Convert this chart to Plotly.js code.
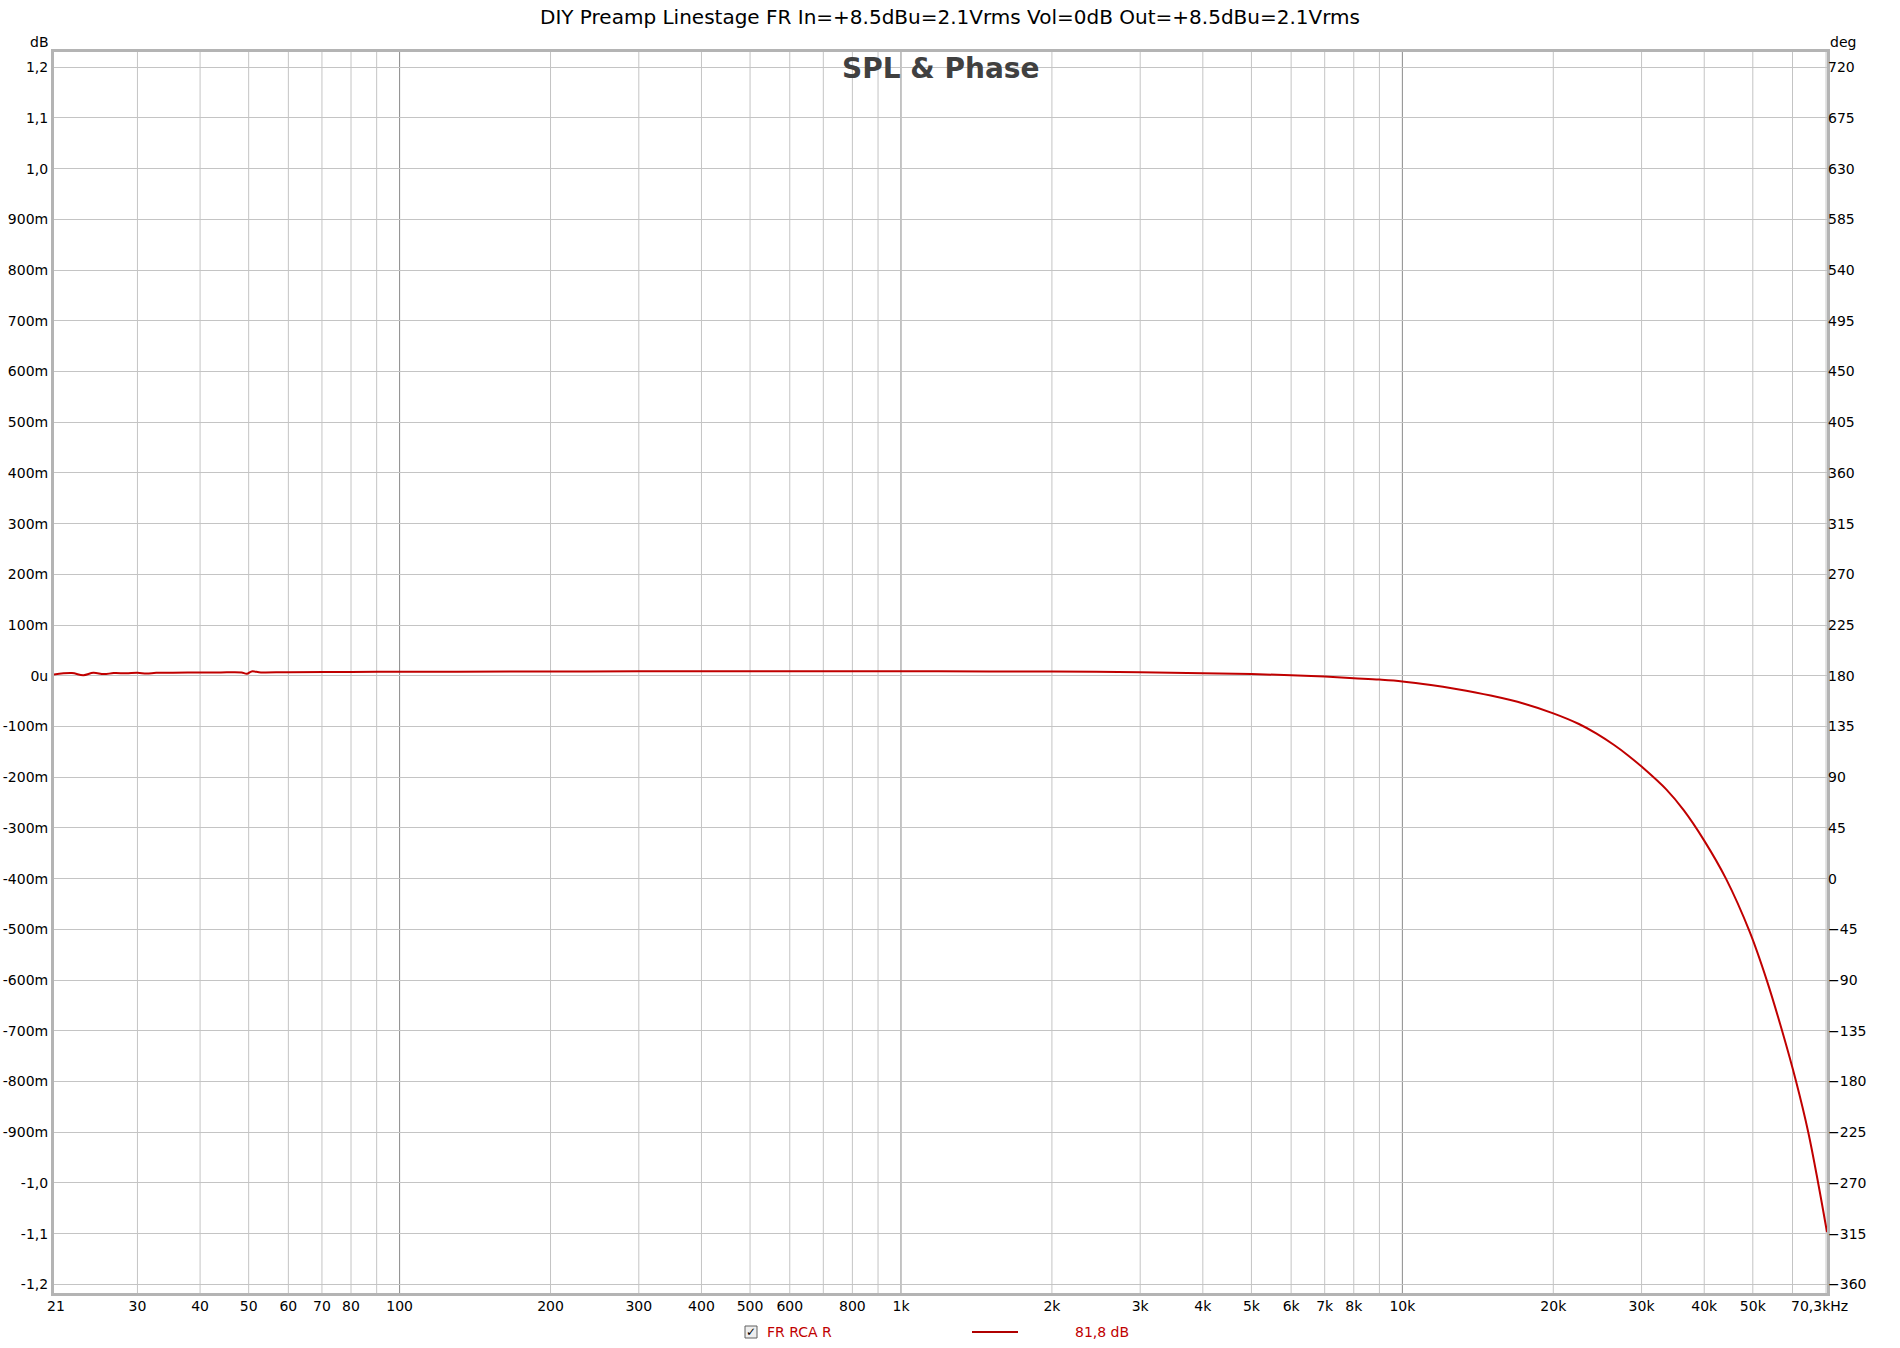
<!DOCTYPE html>
<html><head><meta charset="utf-8">
<script src="https://cdn.plot.ly/plotly-3.0.1.min.js"></script>
<style>html,body{margin:0;padding:0;background:#fff}</style>
</head><body><div id="chart" style="width:1900px;height:1348px"></div>
<script>
// ---- data ----
const chartTitle = 'DIY Preamp Linestage FR In=+8.5dBu=2.1Vrms Vol=0dB Out=+8.5dBu=2.1Vrms';
const seriesName = 'FR RCA R';
const seriesLevel = '81,8 dB';
const freqHz = [20.45, 22.2, 23.4, 24.5, 25.7, 26.9, 28.5, 30, 31.3, 32.7, 35.3, 40, 44, 46.6, 48.4, 49.6, 50.7, 52.9, 60, 80, 100, 130, 200, 300, 500, 700, 1000, 1500, 2000, 3000, 4000, 5000, 6000, 7000, 8000, 9000, 10000, 11400, 12800, 15000, 17500, 20000, 22500, 24400, 26400, 28200, 30000, 33600, 36400, 40000, 44200, 49300, 53300, 57200, 61000, 64500, 67500, 70300];
const splDb  = [0.0026, 0.0053, 0.0013, 0.0059, 0.0033, 0.0053, 0.0050, 0.0059, 0.0046, 0.0059, 0.0059, 0.0066, 0.0066, 0.0072, 0.0066, 0.0039, 0.0086, 0.0066, 0.0072, 0.0076, 0.0079, 0.0082, 0.0085, 0.0088, 0.0090, 0.0090, 0.0088, 0.0087, 0.0084, 0.0072, 0.0048, 0.0033, 0.0013, -0.0013, -0.0046, -0.0075, -0.011, -0.018, -0.026, -0.039, -0.055, -0.074, -0.095, -0.114, -0.136, -0.157, -0.179, -0.224, -0.265, -0.325, -0.400, -0.505, -0.600, -0.700, -0.800, -0.900, -1.000, -1.097];

const xStart = 20.45, xEnd = 70300;
const xTickVals = [30, 40, 50, 60, 70, 80, 100, 200, 300, 400, 500, 600, 800, 1000, 2000, 3000, 4000, 5000, 6000, 7000, 8000, 10000, 20000, 30000, 40000, 50000];
const xTickText = ['30', '40', '50', '60', '70', '80', '100', '200', '300', '400', '500', '600', '800', '1k', '2k', '3k', '4k', '5k', '6k', '7k', '8k', '10k', '20k', '30k', '40k', '50k'];
const xStartLabel = '21';
const xEndLabel = '70,3kHz';
const gridDecades = [10, 100, 1000, 10000];
const gridMultipliers = [1, 2, 3, 4, 5, 6, 7, 8, 9];
const majorGridFreqs = [100, 1000, 10000];

const yTickVals = [1.2, 1.1, 1.0, 0.9, 0.8, 0.7, 0.6, 0.5, 0.4, 0.3, 0.2, 0.1, 0, -0.1, -0.2, -0.3, -0.4, -0.5, -0.6, -0.7, -0.8, -0.9, -1.0, -1.1, -1.2];
const yTickText = ['1,2', '1,1', '1,0', '900m', '800m', '700m', '600m', '500m', '400m', '300m', '200m', '100m', '0u', '-100m', '-200m', '-300m', '-400m', '-500m', '-600m', '-700m', '-800m', '-900m', '-1,0', '-1,1', '-1,2'];
const yRange = [-1.217, 1.230];
const phaseTickVals = [720, 675, 630, 585, 540, 495, 450, 405, 360, 315, 270, 225, 180, 135, 90, 45, 0, -45, -90, -135, -180, -225, -270, -315, -360];
const phaseRange = [180 + 450 * yRange[0], 180 + 450 * yRange[1]];

// ---- layout helpers ----
const W = 1900, H = 1348;
const M = {l: 54, r: 73, t: 52, b: 55};
const pw = W - M.l - M.r, ph = H - M.t - M.b;
const px = x => (x - M.l) / pw;
const py = y => (H - M.b - y) / ph;
const FONT = 'DejaVu Sans, Verdana, sans-serif';
const RED = '#c00000';

const shapes = [];
gridDecades.forEach(d => gridMultipliers.forEach(m => {
  const f = d * m;
  if (f <= xStart || f >= xEnd) return;
  const major = majorGridFreqs.includes(f);
  shapes.push({type: 'line', xref: 'x', yref: 'paper', x0: f, x1: f, y0: 0, y1: 1,
    layer: 'below', line: {color: major ? '#8a8a8a' : '#c4c4c4', width: 1}});
}));
// legend swatch & checkbox
shapes.push({type: 'rect', xref: 'paper', yref: 'paper', x0: px(745), x1: px(757), y0: py(1338), y1: py(1326),
  line: {color: '#606060', width: 1}, fillcolor: '#eeeeee'});
shapes.push({type: 'line', xref: 'paper', yref: 'paper', x0: px(972), x1: px(1018), y0: py(1332), y1: py(1332),
  line: {color: '#b00000', width: 2}});

const tickFont = {family: FONT, size: 14, color: '#000'};
const annotations = [
  {text: '<b>SPL &amp; Phase</b>', xref: 'paper', yref: 'paper', x: 0.5, y: py(68), xanchor: 'center', yanchor: 'middle',
   showarrow: false, font: {family: FONT, size: 28, color: '#404040'}},
  {text: 'dB', xref: 'paper', yref: 'paper', x: px(39), y: py(42), xanchor: 'center', yanchor: 'middle',
   showarrow: false, font: tickFont},
  {text: 'deg', xref: 'paper', yref: 'paper', x: px(1843), y: py(42), xanchor: 'center', yanchor: 'middle',
   showarrow: false, font: tickFont},
  {text: xStartLabel, xref: 'x', yref: 'paper', x: Math.log10(xStart), y: py(1306), xanchor: 'center', yanchor: 'middle',
   xshift: 2, showarrow: false, font: tickFont},
  {text: xEndLabel, xref: 'x', yref: 'paper', x: Math.log10(xEnd), y: py(1306), xanchor: 'center', yanchor: 'middle',
   xshift: -8, showarrow: false, font: tickFont},
  {text: '✓', xref: 'paper', yref: 'paper', x: px(751), y: py(1332), xanchor: 'center', yanchor: 'middle',
   showarrow: false, font: {family: FONT, size: 12, color: '#000'}},
  {text: seriesName, xref: 'paper', yref: 'paper', x: px(765), y: py(1332), xanchor: 'left', yanchor: 'middle',
   showarrow: false, font: {family: FONT, size: 14, color: RED}},
  {text: seriesLevel, xref: 'paper', yref: 'paper', x: px(1073), y: py(1332), xanchor: 'left', yanchor: 'middle',
   showarrow: false, font: {family: FONT, size: 14, color: RED}}
];

const traces = [
  {x: freqHz, y: splDb, type: 'scatter', mode: 'lines', name: seriesName,
   line: {color: RED, width: 2, shape: 'spline', smoothing: 1}, hoverinfo: 'skip', showlegend: false},
  {x: [], y: [], type: 'scatter', mode: 'lines', yaxis: 'y2', showlegend: false, hoverinfo: 'skip'}
];

const layout = {
  width: W, height: H, margin: M, paper_bgcolor: '#fff', plot_bgcolor: '#fff',
  showlegend: false,
  title: {text: chartTitle, x: 0.5, xref: 'container', xanchor: 'center', y: 1 - 17 / H, yref: 'container', yanchor: 'middle',
    font: {family: FONT, size: 20, color: '#000'}},
  font: {family: FONT, size: 14, color: '#000'},
  xaxis: {type: 'log', range: [Math.log10(xStart), Math.log10(xEnd)], tickmode: 'array',
    tickvals: xTickVals, ticktext: xTickText, showgrid: false, zeroline: false,
    showline: true, mirror: true, linecolor: '#b4b4b4', linewidth: 3,
    ticks: '', ticklabelstandoff: -2, tickfont: tickFont},
  yaxis: {range: yRange, tickmode: 'array', tickvals: yTickVals, ticktext: yTickText,
    showgrid: true, gridcolor: '#c4c4c4', gridwidth: 1, zeroline: false,
    showline: true, mirror: true, linecolor: '#b4b4b4', linewidth: 3,
    ticks: '', tickfont: tickFont},
  yaxis2: {range: phaseRange, overlaying: 'y', side: 'right', tickmode: 'array', tickvals: phaseTickVals,
    showgrid: false, zeroline: false, showline: false, ticks: '', tickfont: tickFont},
  shapes: shapes, annotations: annotations
};

Plotly.newPlot('chart', traces, layout, {staticPlot: true, displayModeBar: false});
</script>
</body></html>
